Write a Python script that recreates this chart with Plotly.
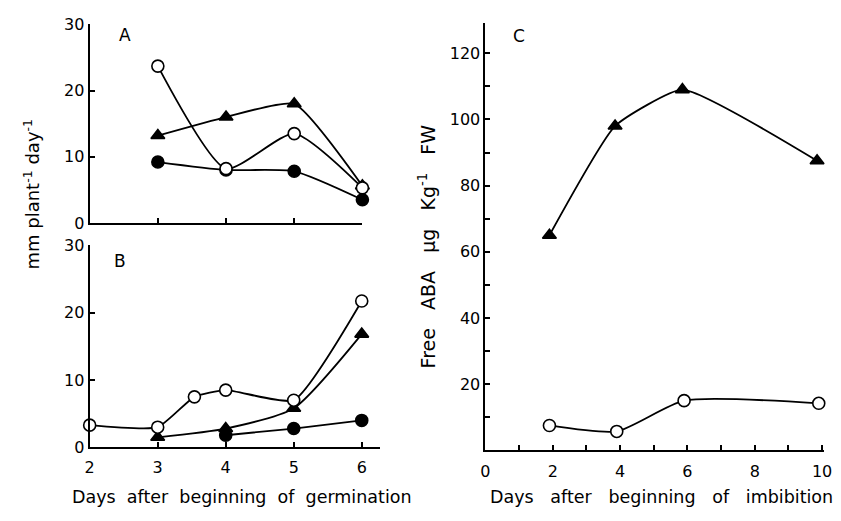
import plotly.graph_objects as go

# Panel A: shoot elongation rate, mm plant-1 day-1
a_days = [3, 4, 5, 6]
a_open = [23.7, 8.2, 13.5, 5.3]
a_tri = [13.2, 16.0, 18.0, 5.6]
a_fill = [9.2, 8.0, 7.8, 3.5]

# Panel B: root elongation rate
b_open_days = [2, 3, 3.54, 4, 5, 6]
b_open = [3.3, 3.0, 7.5, 8.5, 7.0, 21.7]
b_tri_days = [3, 4, 5, 6]
b_tri = [1.5, 2.8, 5.8, 16.8]
b_fill_days = [4, 5, 6]
b_fill = [1.8, 2.8, 4.0]

# Panel C: free ABA content
c_tri_days = [1.9, 3.85, 5.85, 9.85]
c_tri = [65, 98, 109, 87.5]
c_open_days = [1.9, 3.9, 5.9, 9.9]
c_open = [7.5, 5.7, 15.0, 14.2]

FONT = "DejaVu Sans"
LW = 1.8
MS = 12

fig = go.Figure()


def add(x, y, sym, xa, ya, filled=True, size=MS, smooth=0.6):
    fig.add_trace(go.Scatter(
        x=x, y=y, mode="lines+markers",
        line=dict(color="black", width=LW, shape="spline", smoothing=smooth),
        marker=dict(symbol=sym, size=size,
                    color="black" if filled else "white",
                    line=dict(color="black", width=1.6)),
        xaxis=xa, yaxis=ya, cliponaxis=False, showlegend=False,
    ))


add(a_days, a_tri, "triangle-up", "x", "y", smooth=0.5)
add(a_days, a_fill, "circle", "x", "y")
add(a_days, a_open, "circle", "x", "y", filled=False)

add(b_tri_days, b_tri, "triangle-up", "x2", "y2")
add(b_fill_days, b_fill, "circle", "x2", "y2")
add(b_open_days, b_open, "circle", "x2", "y2", filled=False, smooth=0.5)

add(c_tri_days, c_tri, "triangle-up", "x3", "y3", smooth=0.45)
add(c_open_days, c_open, "circle", "x3", "y3", filled=False)

tickfont = dict(family=FONT, size=16, color="black")
common = dict(showgrid=False, zeroline=False, showline=True, linecolor="black",
              linewidth=2, ticks="inside", tickcolor="black", ticklen=5,
              tickwidth=1.5, tickfont=tickfont)

fig.update_layout(
    width=841, height=521,
    margin=dict(l=0, r=0, t=0, b=0),
    paper_bgcolor="white", plot_bgcolor="white",
    font=dict(family=FONT, color="black"),
    xaxis=dict(domain=[86 / 841, 363 / 841], range=[2, 6],
               tickvals=[3, 4, 5], showticklabels=False, anchor="y", **common),
    yaxis=dict(domain=[1 - 222 / 521, 1 - 16 / 521], range=[0, 30],
               tickvals=[0, 10, 20, 30], anchor="x", **common),
    xaxis2=dict(domain=[86 / 841, 381 / 841], range=[2, 6.27],
                tickvals=[2, 3, 4, 5, 6], anchor="y2", ticklabelstandoff=4,
                **common),
    yaxis2=dict(domain=[1 - 455 / 521, 1 - 245 / 521], range=[0, 30],
                tickvals=[0, 10, 20, 30], anchor="x2", **common),
    xaxis3=dict(domain=[488 / 841, 832 / 841], range=[0, 10.06],
                tickvals=list(range(0, 11)),
                ticktext=[str(v) if v % 2 == 0 else "" for v in range(0, 11)],
                anchor="y3", ticklabelstandoff=6, **common),
    yaxis3=dict(domain=[1 - 458 / 521, 1 - 15 / 521], range=[0, 129],
                tickvals=list(range(10, 130, 10)),
                ticktext=[str(v) if v % 20 == 0 else "" for v in range(10, 130, 10)],
                anchor="x3", **common),
)


def note(px, py, text, size, angle=0):
    fig.add_annotation(x=px / 841, y=1 - py / 521, xref="paper", yref="paper",
                       xanchor="center", yanchor="middle", text=text,
                       textangle=angle, showarrow=False,
                       font=dict(family=FONT, size=size, color="black"))


note(122, 27, "A", 17)
note(117, 262, "B", 17)
note(522, 28, "C", 17)

note(27, 192, "mm plant<sup>-1</sup> day<sup>-1</sup>", 18, -90)
note(429, 246, "Free   ABA   µg   Kg<sup>-1</sup>   FW", 19, -90)
note(241, 506, "Days  after  beginning  of  germination", 17.5)
note(667, 506, "Days   after   beginning   of   imbibition", 17.5)

fig.write_html("out.html")
